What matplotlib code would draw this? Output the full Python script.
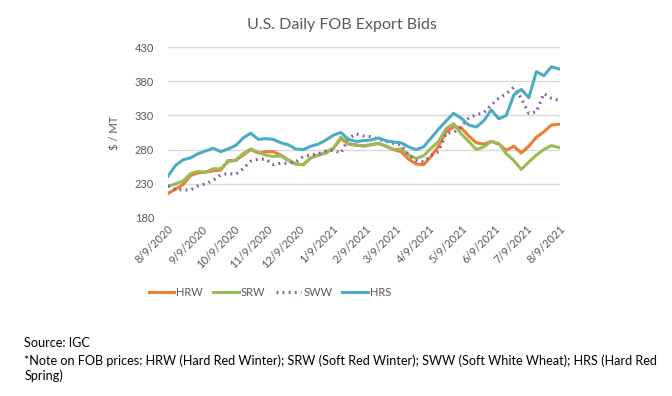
import matplotlib.pyplot as plt
import pandas as pd

# Weekly readings, 8/9/2020 to 8/8/2021
dates = pd.date_range("2020-08-09", periods=53, freq="7D")

hrw = [216, 222, 229, 242, 246, 247, 249, 250, 264, 264, 272, 280, 275, 277,
       277, 272, 265, 259, 258, 268, 272, 275, 282, 296, 288, 287, 285, 287,
       289, 285, 280, 277, 266, 259, 258, 270, 285, 306, 313, 312, 300, 290,
       288, 292, 288, 279, 285, 275, 285, 298, 306, 316, 317]
srw = [226, 230, 234, 245, 248, 247, 252, 252, 262, 265, 274, 281, 276, 272,
       270, 271, 264, 259, 258, 268, 272, 276, 282, 298, 289, 286, 286, 287,
       289, 285, 280, 281, 272, 267, 271, 282, 292, 311, 318, 303, 292, 280,
       284, 292, 289, 274, 264, 251, 262, 272, 280, 286, 283]
sww = [227, 222, 221, 221, 227, 230, 235, 243, 245, 244, 252, 263, 266, 266,
       258, 260, 260, 262, 270, 272, 274, 278, 279, 275, 296, 303, 300, 299,
       295, 292, 289, 287, 272, 264, 262, 272, 277, 304, 305, 313, 326, 331,
       334, 345, 355, 362, 371, 355, 333, 335, 362, 355, 352]
hrs = [241, 257, 265, 268, 274, 278, 282, 277, 281, 286, 297, 304, 295, 296,
       295, 290, 287, 281, 280, 285, 288, 294, 301, 305, 295, 292, 293, 294,
       297, 293, 291, 290, 284, 280, 284, 297, 310, 322, 333, 326, 316, 313,
       322, 338, 325, 330, 360, 368, 356, 394, 388, 401, 398]

tick_dates = pd.date_range("2020-08-01", "2021-08-01", freq="MS") + pd.Timedelta(days=8)
tick_labels = [f"{d.month}/{d.day}/{d.year}" for d in tick_dates]

plt.rcParams['font.family'] = ['Lato', 'DejaVu Sans']
grey = '#595959'

fig = plt.figure(figsize=(6.72, 3.96), dpi=100)
ax = fig.add_axes([0.25, 0.4495, 0.5833, 0.4318])

ax.plot(dates, hrw, color='#ed7d31', lw=2.2, label='HRW')
ax.plot(dates, srw, color='#9bbb59', lw=2.2, label='SRW')
ax.plot(dates, sww, color='#7f5f9f', lw=2.2, ls=(0, (0.6, 1.4)), label='SWW')
ax.plot(dates, hrs, color='#4bacc6', lw=2.2, label='HRS')

ax.set_ylim(180, 430)
ax.set_yticks(range(180, 431, 50))
ax.set_xlim(pd.Timestamp("2020-08-09"), pd.Timestamp("2021-08-09"))
ax.set_xticks(tick_dates)
ax.set_xticklabels(tick_labels, rotation=45, ha='right', va='top',
                   rotation_mode='anchor', fontsize=8, color=grey)
ax.tick_params(axis='y', labelsize=8, labelcolor=grey, length=0, pad=10)
ax.tick_params(axis='x', length=0, pad=4)
ax.grid(axis='y', color='#d9d9d9', lw=1)
ax.set_axisbelow(True)
for s in ax.spines.values():
    s.set_visible(False)

ax.set_ylabel('$ / MT', fontsize=8, color=grey, labelpad=10)
fig.text(0.509, 0.938, 'U.S. Daily FOB Export Bids', ha='center', va='center',
         fontsize=11.5, color=grey)

fig.legend(loc='center', bbox_to_anchor=(0.402, 0.262), ncol=4, frameon=False,
           fontsize=8, labelcolor=grey, handlelength=2.3, handletextpad=0.2,
           columnspacing=0.9)

fig.text(0.036, 0.134, 'Source: IGC', fontsize=9.1, va='center')
fig.text(0.036, 0.088, '*Note on FOB prices: HRW (Hard Red Winter); SRW (Soft Red Winter); '
         'SWW (Soft White Wheat); HRS (Hard Red', fontsize=9.1, va='center')
fig.text(0.036, 0.05, 'Spring)', fontsize=9.1, va='center')

fig.savefig('out.png', dpi=100)
